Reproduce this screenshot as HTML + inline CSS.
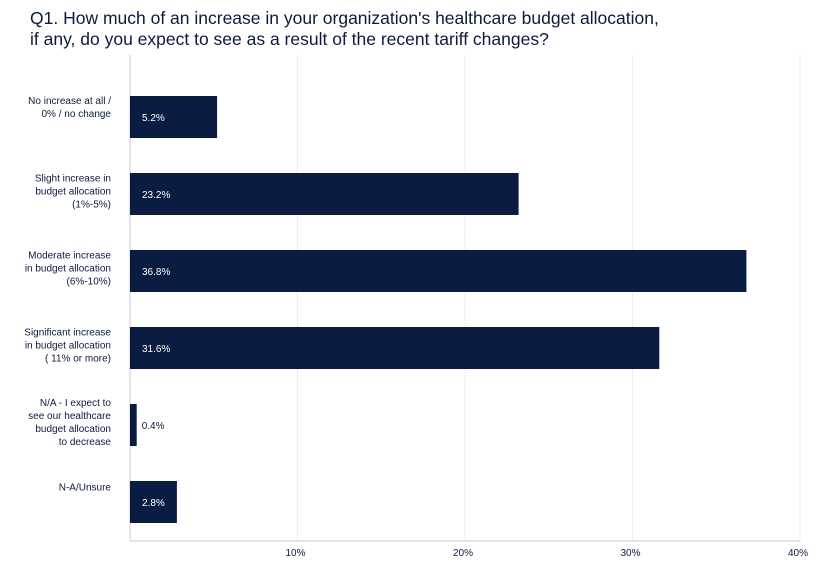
<!DOCTYPE html>
<html><head><meta charset="utf-8"><style>
body{margin:0;background:#fff;}
svg{font-family:"Liberation Sans",sans-serif;}
</style></head><body>
<svg id="chart" width="839" height="563">
<text x="30" y="24" font-size="17.5" fill="#0c1b3d">Q1. How much of an increase in your organization's healthcare budget allocation,</text>
<text x="30" y="45" font-size="17.5" fill="#0c1b3d">if any, do you expect to see as a result of the recent tariff changes?</text>
<g id="grid"></g><g id="bars"></g><g id="labels"></g>
</svg>
<script>
const categories=[["No increase at all /","0% / no change"],["Slight increase in","budget allocation","(1%-5%)"],["Moderate increase","in budget allocation","(6%-10%)"],["Significant increase","in budget allocation","( 11% or more)"],["N/A - I expect to","see our healthcare","budget allocation","to decrease"],["N-A/Unsure"]];
const values=[5.2,23.2,36.8,31.6,0.4,2.8];
const ticks=[10,20,30,40];
const tickLabels=["10%","20%","30%","40%"];
const NS="http://www.w3.org/2000/svg";
const x0=130,pxPer=16.75,top0=96,step=77,bh=42,axisBottom=541,plotTop=55;
const x=v=>x0+v*pxPer;
function mk(t,a,p){const e=document.createElementNS(NS,t);for(const k in a)e.setAttribute(k,a[k]);p.appendChild(e);return e;}
const grid=document.getElementById('grid'),bars=document.getElementById('bars'),labels=document.getElementById('labels');
ticks.forEach((t,i)=>{
 const l=mk('line',{x1:x(t),x2:x(t),y1:plotTop,y2:axisBottom,stroke:'#ececf0','stroke-width':1},grid);
 
 
 const tx=mk('text',{x:x(t)-2,y:556,'font-size':10,fill:'#0c1b3d','text-anchor':'middle'},grid);
 tx.textContent=tickLabels[i];
 
 
});
const ax=mk('path',{d:`M${x0},${plotTop}V${axisBottom}H${x(40)}`,stroke:'#c8c8d4',fill:'none'},grid);


values.forEach((v,i)=>{
 const y=top0+i*step;
 const r=mk('rect',{x:x0,y:y,width:x(v)-x0,height:bh,fill:'#0b1c42'},bars);
 
 
 const inside=v>2;
 const vt=mk('text',{x:inside?x0+12:x(v)+5,y:y+bh/2+4,'font-size':10,fill:inside?'#fff':'#0c1b3d'},bars);
 vt.textContent=v.toFixed(1)+'%';
 
 
 const lines=categories[i];
 const cy=y+bh/2-(lines.length-1)*6.5+0.5-(i===0?7:0)-(i===5?12:0);
 lines.forEach((s,j)=>{
  const t=mk('text',{x:111,y:cy+j*13,'font-size':10,fill:'#0c1b3d','text-anchor':'end'},labels);
  t.textContent=s;
  
  
 });
});
</script>
</body></html>
